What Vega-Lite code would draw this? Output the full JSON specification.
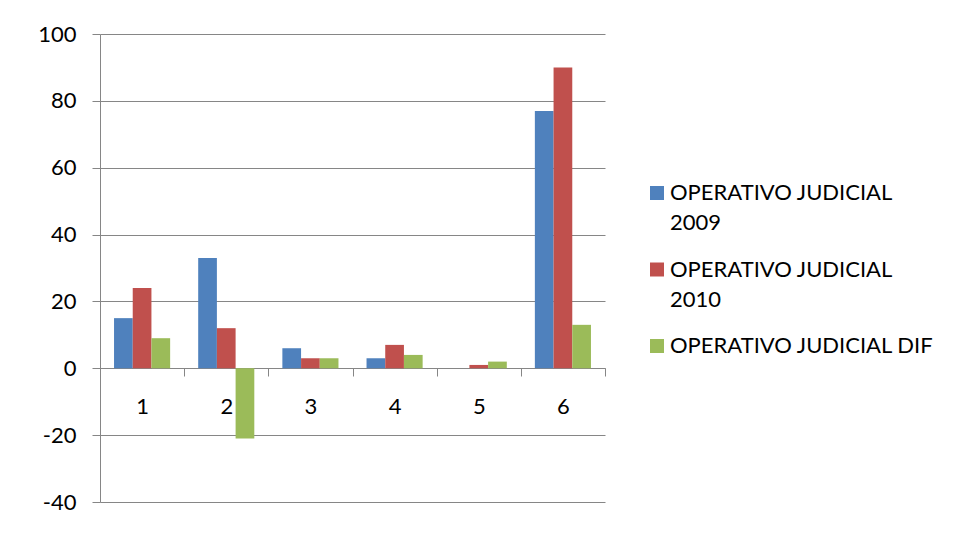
{
  "$schema": "https://vega.github.io/schema/vega-lite/v6.json",
  "width": 505,
  "height": 468,
  "autosize": "none",
  "padding": {"left": 100, "top": 34, "right": 354, "bottom": 52},
  "background": "white",
  "config": {
    "view": {"stroke": null},
    "font": "Lato",
    "style": {"guide-label": {"lineHeight": 30}}
  },
  "data": {
    "values": [
      {"cat": "1", "serie": "OPERATIVO JUDICIAL 2009", "value": 15},
      {"cat": "1", "serie": "OPERATIVO JUDICIAL 2010", "value": 24},
      {"cat": "1", "serie": "OPERATIVO JUDICIAL DIF", "value": 9},
      {"cat": "2", "serie": "OPERATIVO JUDICIAL 2009", "value": 33},
      {"cat": "2", "serie": "OPERATIVO JUDICIAL 2010", "value": 12},
      {"cat": "2", "serie": "OPERATIVO JUDICIAL DIF", "value": -21},
      {"cat": "3", "serie": "OPERATIVO JUDICIAL 2009", "value": 6},
      {"cat": "3", "serie": "OPERATIVO JUDICIAL 2010", "value": 3},
      {"cat": "3", "serie": "OPERATIVO JUDICIAL DIF", "value": 3},
      {"cat": "4", "serie": "OPERATIVO JUDICIAL 2009", "value": 3},
      {"cat": "4", "serie": "OPERATIVO JUDICIAL 2010", "value": 7},
      {"cat": "4", "serie": "OPERATIVO JUDICIAL DIF", "value": 4},
      {"cat": "5", "serie": "OPERATIVO JUDICIAL 2009", "value": 0},
      {"cat": "5", "serie": "OPERATIVO JUDICIAL 2010", "value": 1},
      {"cat": "5", "serie": "OPERATIVO JUDICIAL DIF", "value": 2},
      {"cat": "6", "serie": "OPERATIVO JUDICIAL 2009", "value": 77},
      {"cat": "6", "serie": "OPERATIVO JUDICIAL 2010", "value": 90},
      {"cat": "6", "serie": "OPERATIVO JUDICIAL DIF", "value": 13}
    ]
  },
  "mark": {"type": "bar"},
  "encoding": {
    "x": {
      "field": "cat",
      "type": "nominal",
      "scale": {"paddingInner": 0, "paddingOuter": 0},
      "axis": {
        "title": null,
        "orient": "bottom",
        "offset": -134,
        "domainColor": "#868686",
        "tickColor": "#868686",
        "tickSize": 8,
        "tickBand": "extent",
        "labelPadding": 20,
        "labelFontSize": 22,
        "labelAngle": 0,
        "labelColor": "#000000",
        "grid": false
      }
    },
    "xOffset": {
      "field": "serie",
      "type": "nominal",
      "scale": {"paddingInner": 0, "paddingOuter": 0.75}
    },
    "y": {
      "field": "value",
      "type": "quantitative",
      "scale": {"domain": [-40, 100], "nice": false},
      "axis": {
        "title": null,
        "values": [-40, -20, 0, 20, 40, 60, 80, 100],
        "labelExpr": "'' + datum.value",
        "domainColor": "#868686",
        "tickColor": "#868686",
        "gridColor": "#868686",
        "tickSize": 8,
        "labelPadding": 16,
        "labelFontSize": 22,
        "labelColor": "#000000"
      }
    },
    "color": {
      "field": "serie",
      "type": "nominal",
      "scale": {
        "domain": ["OPERATIVO JUDICIAL 2009", "OPERATIVO JUDICIAL 2010", "OPERATIVO JUDICIAL DIF"],
        "range": ["#4F81BD", "#C0504D", "#9BBB59"]
      },
      "legend": {
        "title": null,
        "orient": "none",
        "legendX": 546,
        "legendY": 148,
        "padding": 0,
        "symbolType": "square",
        "symbolSize": 196,
        "symbolStrokeWidth": 0,
        "labelOffset": 2,
        "labelFontSize": 22,
        "labelLimit": 400,
        "labelColor": "#000000",
        "rowPadding": 24.5,
        "labelExpr": "indexof(datum.label, 'DIF') >= 0 ? datum.label : ['OPERATIVO JUDICIAL', slice(datum.label, 19)]"
      }
    }
  }
}
